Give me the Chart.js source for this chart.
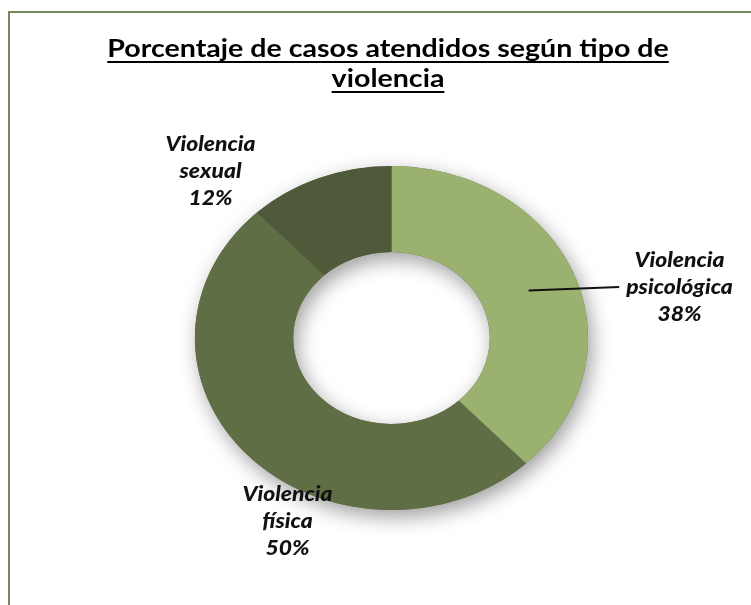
<!DOCTYPE html>
<html>
<head>
<meta charset="utf-8">
<script src="https://cdn.jsdelivr.net/npm/chart.js@4.4.1/dist/chart.umd.min.js"></script>
<style>
  html, body { margin: 0; padding: 0; background: #ffffff; }
  #wrap { position: relative; width: 751px; height: 605px; overflow: hidden; }
  #frame {
    position: absolute; left: 8px; top: 11px; width: 800px; height: 700px;
    border: 2px solid #77885b; box-sizing: border-box;
  }
  #chart { position: absolute; left: 0; top: 0; }
</style>
</head>
<body>
<div id="wrap">
  <div id="frame"></div>
  <canvas id="chart" width="751" height="605"></canvas>
</div>
<script>
// ============================
// DATA
// ============================
const categories = ["Violencia psicológica", "Violencia física", "Violencia sexual"];
const labelLines = [["Violencia", "psicológica"], ["Violencia", "física"], ["Violencia", "sexual"]];
const percentages = [38, 50, 12];
const titleLines = ["Porcentaje de casos atendidos según tipo de", "violencia"];

// ============================
// STYLE
// ============================
const sliceColors = ["#9bb170", "#606e46", "#4e5a3a"];
const STRETCH = 1.143; // the original picture is wider than tall
// label centre (middle line) relative to the ring centre, in page pixels
const labelOffsets = [[288, -50], [-104, 184], [-181, -166]];
const labelFont = "italic 900 20px Lato";
const lineGap = 27;

function labelText(i) {
  return [...labelLines[i], percentages[i] + "%"];
}

// stretched ring + soft shadow
const ellipsePlugin = {
  id: "ellipse",
  beforeDatasetsDraw(chart) {
    const arc = chart.getDatasetMeta(0).data[0];
    const { x, y, outerRadius, innerRadius } = arc.getProps(["x", "y", "outerRadius", "innerRadius"], true);
    const ctx = chart.ctx;
    ctx.save();
    ctx.translate(x, 0);
    ctx.scale(STRETCH, 1);
    ctx.translate(-x, 0);

    ctx.save();
    ctx.shadowColor = "rgba(0,0,0,0.38)";
    ctx.shadowBlur = 20;
    ctx.shadowOffsetX = 4;
    ctx.shadowOffsetY = 7;
    ctx.beginPath();
    ctx.arc(x, y, outerRadius, 0, Math.PI * 2);
    ctx.moveTo(x + innerRadius, y);
    ctx.arc(x, y, innerRadius, 0, Math.PI * 2, true);
    ctx.fillStyle = sliceColors[1];
    ctx.fill();
    ctx.restore();
  },
  afterDatasetsDraw(chart) {
    const ctx = chart.ctx;
    ctx.restore();

    const meta = chart.getDatasetMeta(0);
    const cx = meta.data[0].x;
    const cy = meta.data[0].y;

    ctx.save();
    ctx.fillStyle = "#111111";
    ctx.font = labelFont;
    ctx.textAlign = "center";
    ctx.textBaseline = "middle";
    meta.data.forEach((arc, i) => {
      const lx = cx + labelOffsets[i][0];
      const ly = cy + labelOffsets[i][1];
      const lines = labelText(i);
      lines.forEach((t, k) => {
        ctx.save();
        ctx.translate(lx, ly + (k - 1) * lineGap);
        ctx.scale(STRETCH, 1);
        ctx.fillText(t, 0, 0);
        ctx.restore();
      });
    });

    // leader line for the psychological slice
    const p = meta.data[0].tooltipPosition();
    const px = cx + (p.x - cx) * STRETCH;
    const w = ctx.measureText(labelLines[0][1]).width * STRETCH;
    const ex = cx + labelOffsets[0][0] - w / 2 - 7;
    const ey = cy + labelOffsets[0][1] - 1;
    ctx.strokeStyle = "#111111";
    ctx.lineWidth = 2;
    ctx.beginPath();
    ctx.moveTo(px, p.y);
    ctx.lineTo(ex, ey);
    ctx.stroke();
    ctx.restore();
  }
};

// underlined title
const titlePlugin = {
  id: "underlinedTitle",
  afterDraw(chart) {
    const ctx = chart.ctx;
    const tx = 388;
    ctx.save();
    ctx.font = "bold 25px Lato";
    ctx.fillStyle = "#000000";
    ctx.textAlign = "center";
    ctx.textBaseline = "alphabetic";
    titleLines.forEach((t, k) => {
      const by = 57 + k * 30;
      const w = ctx.measureText(t).width * STRETCH;
      ctx.save();
      ctx.translate(tx, by);
      ctx.scale(STRETCH, 1);
      ctx.fillText(t, 0, 0);
      ctx.restore();
      ctx.fillRect(tx - w / 2, by + 4, w, 2);
    });
    ctx.restore();
  }
};

const ctx = document.getElementById("chart").getContext("2d");

const myChart = new Chart(ctx, {
  type: "doughnut",
  data: {
    labels: categories,
    datasets: [
      {
        data: percentages,
        backgroundColor: sliceColors,
        borderWidth: 0,
      },
    ],
  },
  options: {
    responsive: false,
    animation: false,
    cutout: "50%",
    layout: { padding: { top: 166, bottom: 95, left: 32, right: 0 } },
    plugins: {
      legend: { display: false },
      tooltip: { enabled: false },
    },
  },
  plugins: [ellipsePlugin, titlePlugin],
});
</script>
</body>
</html>
